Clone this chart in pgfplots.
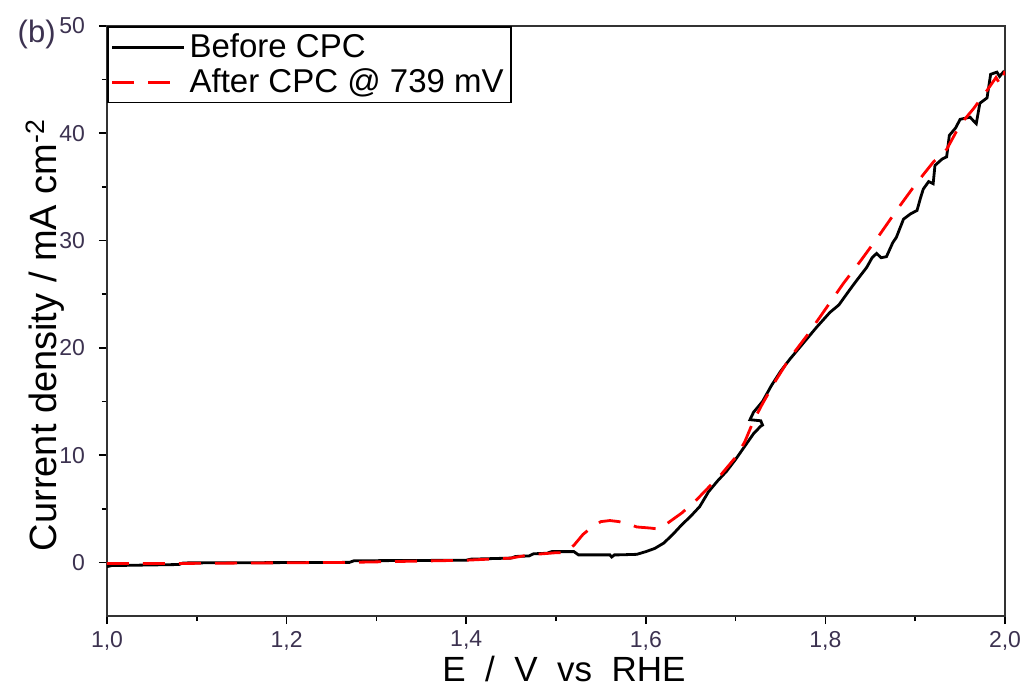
\documentclass[border=0pt]{standalone}
\usepackage{pgfplots}
\pgfplotsset{compat=1.18}
\usepackage{fontspec}
\setmainfont{Liberation Sans}
\definecolor{tickcol}{RGB}{60,50,80}
\begin{document}
\begin{tikzpicture}
\path[use as bounding box] (-53.5pt,-38.5pt) rectangle (460pt,308pt);
\begin{axis}[
  at={(0,0)}, anchor=south west,
  scale only axis, width=449pt, height=295pt,
  xmin=1, xmax=2, ymin=-5, ymax=50,
  xtick={1,1.2,1.4,1.6,1.8,2}, minor x tick num=1,
  ytick={0,10,20,30,40,50}, minor y tick num=1,
  tick align=outside, tick pos=left,
  major tick length=4pt, minor tick length=2.5pt,
  every tick/.style={black, line width=0.8pt},
  axis line style={line width=1pt, black!80},
  /pgf/number format/assume math mode=true,
  xticklabel style={/pgf/number format/.cd, use comma, fixed, fixed zerofill, precision=1},
  yticklabel style={xshift=-3.5pt, /pgf/number format/.cd, fixed},
  ticklabel style={font=\fontsize{11.5pt}{14pt}\selectfont, text=tickcol},
  xlabel={E\ \ /\ \ V\ \ vs\ \ RHE},
  ylabel={Current density / mA cm\textsuperscript{-2}},
  xlabel style={font=\fontsize{17.5pt}{19pt}\selectfont, yshift=4pt, xshift=4pt},
  ylabel style={font=\fontsize{19pt}{20pt}\selectfont, yshift=-9.5pt, xshift=-7pt},
  legend style={at={(0,1)}, anchor=north west, draw=black, line width=0.8pt,
    font=\fontsize{16.5pt}{18pt}\selectfont, inner sep=1.5pt, row sep=0pt,
    cells={anchor=west}},
  legend image code/.code={\draw[#1] (0pt,0pt) -- (36pt,0pt);},
  clip=true,
]
\addplot[black, line width=1.4pt] coordinates {
(1.000,-0.4) (1.005,-0.3) (1.08,-0.2) (1.085,-0.05) (1.27,0.0) (1.275,0.15)
(1.40,0.2) (1.405,0.3) (1.45,0.4) (1.455,0.55) (1.47,0.6) (1.475,0.8)
(1.49,0.85) (1.495,1.0) (1.52,1.0) (1.525,0.7) (1.56,0.7) (1.562,0.5)
(1.565,0.7) (1.57,0.7) (1.59,0.75) (1.60,1.0) (1.61,1.3) (1.62,1.8)
(1.63,2.6) (1.64,3.5) (1.65,4.3) (1.66,5.2) (1.67,6.6) (1.68,7.6)
(1.69,8.5) (1.70,9.6) (1.71,10.8) (1.72,12.0) (1.728,12.7) (1.73,12.8)
(1.728,13.2) (1.716,13.3) (1.72,14.0) (1.73,15.0) (1.74,16.5) (1.75,17.8)
(1.76,18.9) (1.772,20.1) (1.79,21.9) (1.805,23.3) (1.815,24.0) (1.827,25.4)
(1.835,26.3) (1.846,27.5) (1.852,28.4) (1.857,28.8) (1.862,28.4) (1.868,28.5)
(1.875,29.8) (1.879,30.3) (1.887,32.0) (1.895,32.5) (1.902,32.8) (1.906,34.0)
(1.909,34.8) (1.915,35.5) (1.920,35.3) (1.922,37.0) (1.930,37.6) (1.935,37.8)
(1.938,39.8) (1.945,40.5) (1.950,41.3) (1.961,41.5) (1.968,40.9) (1.972,42.8)
(1.980,43.3) (1.984,45.5) (1.991,45.7) (1.994,45.3) (1.998,45.7) (2.000,45.5)
};
\addlegendentry{Before CPC}
\addplot[red, line width=1.4pt, dash pattern=on 11pt off 7pt] coordinates {
(1.00,-0.1) (1.08,-0.1) (1.27,0.0) (1.40,0.2) (1.45,0.4) (1.47,0.7)
(1.50,0.9) (1.51,0.9) (1.52,1.6) (1.53,2.6) (1.54,3.3) (1.55,3.8)
(1.56,3.9) (1.57,3.8) (1.58,3.6) (1.59,3.3) (1.605,3.2) (1.615,3.1)
(1.625,3.7) (1.64,4.6) (1.655,5.7) (1.67,7.0) (1.685,8.3) (1.70,9.8)
(1.71,11.2) (1.72,13.2) (1.73,14.8) (1.745,17.0) (1.76,19.0) (1.78,21.2)
(1.80,23.6) (1.82,26.0) (1.84,28.2) (1.86,30.5) (1.88,32.9) (1.90,35.2)
(1.92,37.3) (1.935,38.5) (1.95,40.8) (1.965,42.3) (1.98,44.0) (1.99,45.2)
(1.995,44.5) (2.00,45.8)
};
\addlegendentry{After CPC @ 739 mV}
\end{axis}
\node[anchor=east, font=\fontsize{15.5pt}{17pt}\selectfont, text=tickcol, inner sep=0pt] at (-25.5pt,291pt) {(b)};
\end{tikzpicture}
\end{document}
